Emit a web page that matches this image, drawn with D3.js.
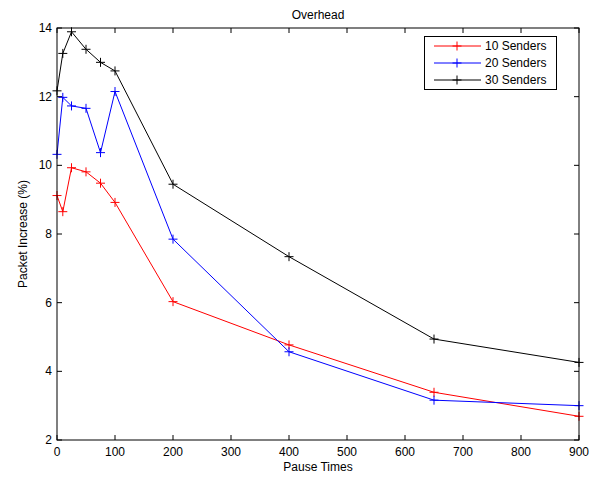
<!DOCTYPE html>
<html>
<head>
<meta charset="utf-8">
<script src="https://cdn.jsdelivr.net/npm/d3@7"></script>
<style>
  body { margin: 0; background: #fff; }
  text { font-family: "Liberation Sans", Arial, sans-serif; font-size: 12px; fill: #000; }
</style>
</head>
<body>
<script>
var pauseTimes = [0, 10, 25, 50, 75, 100, 200, 400, 650, 900];
var senders10 = [9.12, 8.65, 9.93, 9.81, 9.48, 8.92, 6.03, 4.77, 3.39, 2.69];
var senders20 = [10.32, 11.98, 11.73, 11.66, 10.37, 12.15, 7.85, 4.57, 3.16, 3.0];
var senders30 = [12.17, 13.26, 13.89, 13.38, 13.0, 12.75, 9.45, 7.34, 4.94, 4.26];
var seriesNames = ["10 Senders", "20 Senders", "30 Senders"];
var seriesColors = ["#ff0000", "#0000ff", "#000000"];
var xTicks = [0, 100, 200, 300, 400, 500, 600, 700, 800, 900];
var yTicks = [2, 4, 6, 8, 10, 12, 14];

var width = 597, height = 477;
var margin = {left: 57, right: 18, top: 28, bottom: 37};

var x = d3.scaleLinear().domain([0, 900]).range([margin.left, width - margin.right]);
var y = d3.scaleLinear().domain([2, 14]).range([height - margin.bottom, margin.top]);

var svg = d3.select("body").append("svg")
    .attr("width", width)
    .attr("height", height);

// ticks, inside the box on all four sides
var tickLen = 5;
var ax = svg.append("g");
xTicks.forEach(function(t) {
    ax.append("line").attr("x1", x(t)).attr("x2", x(t))
        .attr("y1", y(2)).attr("y2", y(2) - tickLen).attr("stroke", "#000");
    ax.append("line").attr("x1", x(t)).attr("x2", x(t))
        .attr("y1", y(14)).attr("y2", y(14) + tickLen).attr("stroke", "#000");
    ax.append("text").attr("x", x(t)).attr("y", y(2) + 16)
        .attr("text-anchor", "middle").text(t);
});
yTicks.forEach(function(t) {
    ax.append("line").attr("x1", x(0)).attr("x2", x(0) + tickLen)
        .attr("y1", y(t)).attr("y2", y(t)).attr("stroke", "#000");
    ax.append("line").attr("x1", x(900)).attr("x2", x(900) - tickLen)
        .attr("y1", y(t)).attr("y2", y(t)).attr("stroke", "#000");
    ax.append("text").attr("x", x(0) - 5).attr("y", y(t) + 4)
        .attr("text-anchor", "end").text(t);
});

var line = d3.line()
    .x(function(d) { return x(d[0]); })
    .y(function(d) { return y(d[1]); });

var allSeries = [senders10, senders20, senders30];
allSeries.forEach(function(vals, i) {
    var pts = pauseTimes.map(function(p, j) { return [p, vals[j]]; });
    var g = svg.append("g");
    g.append("path").attr("d", line(pts))
        .attr("fill", "none").attr("stroke", seriesColors[i]).attr("stroke-width", 1);
    g.selectAll("path.mk").data(pts).enter().append("path")
        .attr("class", "mk")
        .attr("d", function(d) {
            var cx = x(d[0]), cy = y(d[1]), r = 4.5;
            return "M" + (cx - r) + "," + cy + "H" + (cx + r) + "M" + cx + "," + (cy - r) + "V" + (cy + r);
        })
        .attr("stroke", seriesColors[i]).attr("stroke-width", 1);
});

// axes box
svg.append("rect")
    .attr("x", x(0)).attr("y", y(14))
    .attr("width", x(900) - x(0)).attr("height", y(2) - y(14))
    .attr("fill", "none").attr("stroke", "#000").attr("stroke-width", 1);

// legend
var lg = svg.append("g");
lg.append("rect").attr("x", 424.5).attr("y", 36.5).attr("width", 132).attr("height", 53)
    .attr("fill", "#fff").attr("stroke", "#000");
seriesNames.forEach(function(name, i) {
    var ly = 46 + i * 17;
    lg.append("line").attr("x1", 434).attr("x2", 481).attr("y1", ly).attr("y2", ly)
        .attr("stroke", seriesColors[i]);
    lg.append("path").attr("d", "M" + 452.5 + "," + ly + "H" + 461.5 + "M457," + (ly - 4.5) + "V" + (ly + 4.5))
        .attr("stroke", seriesColors[i]);
    lg.append("text").attr("x", 485).attr("y", ly + 4).text(name);
});

// labels
svg.append("text").attr("x", (x(0) + x(900)) / 2).attr("y", 19)
    .attr("text-anchor", "middle").text("Overhead");
svg.append("text").attr("x", (x(0) + x(900)) / 2).attr("y", 471)
    .attr("text-anchor", "middle").text("Pause Times");
svg.append("text")
    .attr("transform", "translate(27," + (y(2) + y(14)) / 2 + ") rotate(-90)")
    .attr("text-anchor", "middle").text("Packet Increase (%)");
</script>
</body>
</html>
